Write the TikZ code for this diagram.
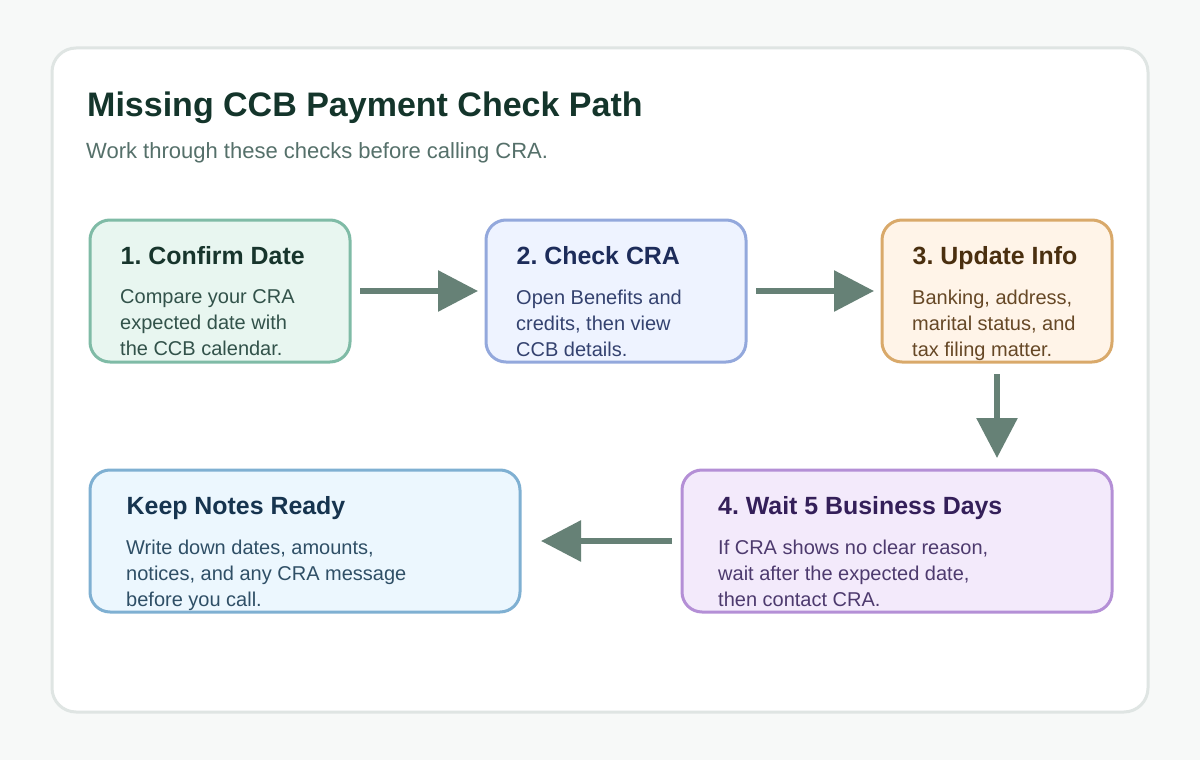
\documentclass[tikz,border=0pt]{standalone}
\usepackage{fontspec}
\setmainfont{Liberation Sans}
\usepackage{tikz}
\usetikzlibrary{arrows.meta, positioning}
\definecolor{PageBg}{HTML}{F7F9F8}
\definecolor{PanelLine}{HTML}{DFE5E3}
\definecolor{FlowGreen}{HTML}{668176}
\definecolor{TitleInk}{HTML}{14352B}
\definecolor{SubInk}{HTML}{55706A}
\definecolor{ConfirmFill}{HTML}{E8F6F0}
\definecolor{ConfirmLine}{HTML}{7FBBA6}
\definecolor{ConfirmHead}{HTML}{17352C}
\definecolor{ConfirmBody}{HTML}{32524A}
\definecolor{CheckFill}{HTML}{EEF3FF}
\definecolor{CheckLine}{HTML}{93A8DC}
\definecolor{CheckHead}{HTML}{1D2C5A}
\definecolor{CheckBody}{HTML}{34426F}
\definecolor{UpdateFill}{HTML}{FFF4E8}
\definecolor{UpdateLine}{HTML}{D9A96A}
\definecolor{UpdateHead}{HTML}{4A2F0F}
\definecolor{UpdateBody}{HTML}{664826}
\definecolor{WaitFill}{HTML}{F3EAFB}
\definecolor{WaitLine}{HTML}{B48FD6}
\definecolor{WaitHead}{HTML}{341F59}
\definecolor{WaitBody}{HTML}{4D3A6E}
\definecolor{NotesFill}{HTML}{ECF7FE}
\definecolor{NotesLine}{HTML}{7FB0D2}
\definecolor{NotesHead}{HTML}{16344F}
\definecolor{NotesBody}{HTML}{2F4F66}

\begin{document}
\begin{tikzpicture}[
			x=1pt, y=1pt,
			panel/.style={rectangle, draw=PanelLine, fill=white, line width=3pt, rounded corners=24pt, minimum width=1096pt, minimum height=664pt, inner sep=0pt},
			box/.style={rectangle, line width=3pt, rounded corners=20pt, minimum height=142pt, inner sep=0pt, outer sep=0pt},
			head/.style={anchor=base west, inner sep=0pt, font=\fontsize{24.9}{29}\selectfont\bfseries\frenchspacing},
			body/.style={anchor=north west, inner sep=0pt, align=left, font=\fontsize{20}{26}\selectfont},
			flow/.style={-{Triangle[length=40pt, width=40pt]}, line width=6pt, draw=FlowGreen, fill=FlowGreen},
			]
			\useasboundingbox (0,0) rectangle (1200,-760);
			\fill[PageBg] (0,0) rectangle (1200,-760);
			\node (card) [panel] at (600,-380) {};
			\node (title) [anchor=base west, inner sep=0pt, text=TitleInk, font=\fontsize{34}{40}\selectfont\bfseries] at (87,-116) {Missing CCB Payment Check Path};
			\node (sub) [anchor=base west, inner sep=0pt, text=SubInk, font=\fontsize{22}{26}\selectfont] at (86,-158) {Work through these checks before calling CRA.};

			\node (confirm) [box, draw=ConfirmLine, fill=ConfirmFill, minimum width=260pt] at (220,-291) {};
			\node (check) [box, draw=CheckLine, fill=CheckFill, minimum width=260pt, right=136pt of confirm] {};
			\node (update) [box, draw=UpdateLine, fill=UpdateFill, minimum width=230pt, right=136pt of check] {};
			\node (wait) [box, draw=WaitLine, fill=WaitFill, minimum width=430pt] at (897,-541) {};
			\node (notes) [box, draw=NotesLine, fill=NotesFill, minimum width=430pt, left=162pt of wait] {};

			\node (confirmhead) [head, text=ConfirmHead] at ([xshift=30.5pt, yshift=-44pt]confirm.north west) {1. Confirm Date};
			\node (confirmbody) [body, text=ConfirmBody] at ([xshift=30pt, yshift=-69.7pt]confirm.north west) {Compare your CRA\\expected date with\\the CCB calendar.};
			\node (checkhead) [head, text=CheckHead] at ([xshift=30.5pt, yshift=-44pt]check.north west) {2. Check CRA};
			\node (checkbody) [body, text=CheckBody] at ([xshift=30pt, yshift=-69.7pt]check.north west) {Open Benefits and\\credits, then view\\CCB details.};
			\node (updatehead) [head, text=UpdateHead] at ([xshift=30.5pt, yshift=-44pt]update.north west) {3. Update Info};
			\node (updatebody) [body, text=UpdateBody] at ([xshift=30pt, yshift=-69.7pt]update.north west) {Banking, address,\\marital status, and\\tax filing matter.};
			\node (waithead) [head, text=WaitHead] at ([xshift=36pt, yshift=-44pt]wait.north west) {4. Wait 5 Business Days};
			\node (waitbody) [body, text=WaitBody] at ([xshift=36pt, yshift=-69.7pt]wait.north west) {If CRA shows no clear reason,\\wait after the expected date,\\then contact CRA.};
			\node (noteshead) [head, text=NotesHead] at ([xshift=36.5pt, yshift=-44pt]notes.north west) {Keep Notes Ready};
			\node (notesbody) [body, text=NotesBody] at ([xshift=36pt, yshift=-69.7pt]notes.north west) {Write down dates, amounts,\\notices, and any CRA message\\before you call.};

			\draw[flow, shorten <=10pt, shorten >=8pt] (confirm) -- (check);
			\draw[flow, shorten <=10pt, shorten >=8pt] (check) -- (update);
			\draw[flow, shorten <=12pt, shorten >=12pt] (update.south) -- (update.south |- wait.north);
			\draw[flow, shorten <=10pt, shorten >=21pt] (wait) -- (notes);
		\end{tikzpicture}
\end{document}
